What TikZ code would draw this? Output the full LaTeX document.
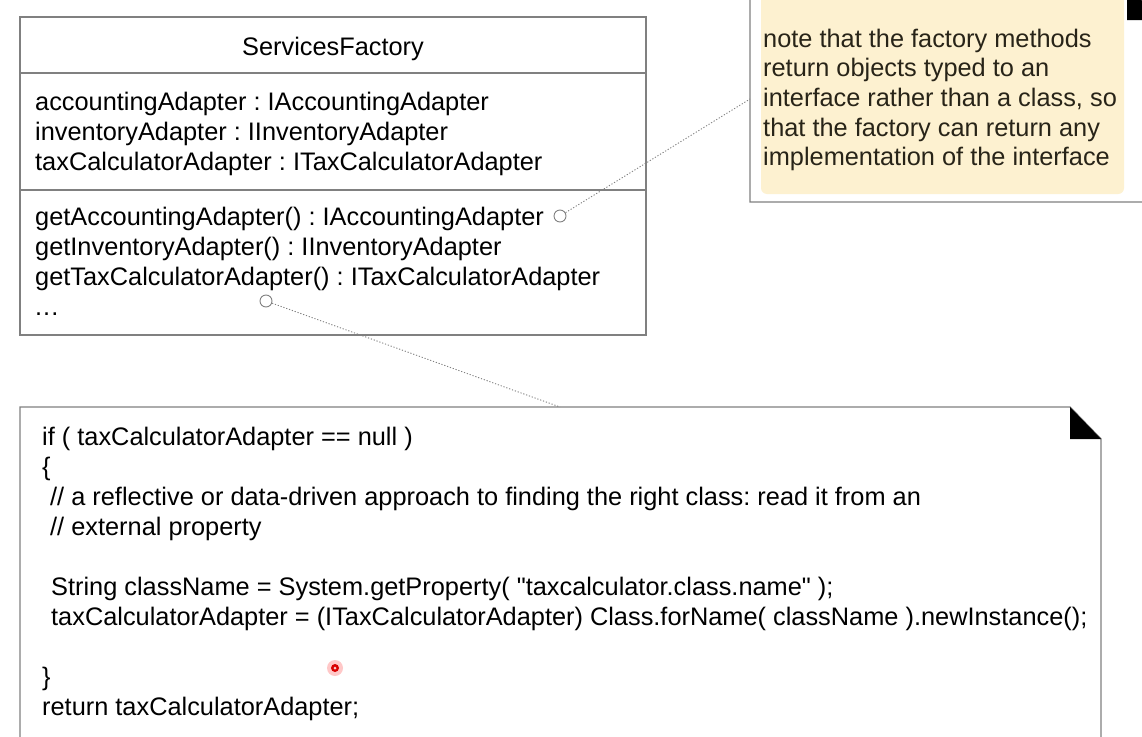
\documentclass[tikz,border=0pt]{standalone}
\usepackage{fontspec}
\setmainfont{Liberation Sans}
\newfontfamily\plainquote{Liberation Sans}[Ligatures=TeXOff]
\usepackage{tikz}
\usetikzlibrary{positioning}
\definecolor{mgray}{rgb}{0.5, 0.5, 0.5}
\definecolor{mhilite}{RGB}{253, 241, 208}
\definecolor{mink}{RGB}{40, 36, 24}
\tikzset{boxline/.style = {draw = mgray, line width = 1.4}}
\tikzset{umltext/.style = {anchor = base west, inner sep = 0, font = \fontsize{25.35}{30}\selectfont}}
\tikzset{port/.style = {draw = mgray, fill = white, circle, inner sep = 0, minimum size = 12, line width = 0.9}}
\tikzset{notelink/.style = {mgray, line width = 0.9, dash pattern = on 1.2 off 1.8}}
\newcommand{\qq}{{\plainquote\char34}}

\begin{document}
\frenchspacing
\begin{tikzpicture}[x = 1pt, y = -1pt]
    \useasboundingbox (0, 0) rectangle (1142, 736);

    % class box
    \draw [boxline] (20, 17) rectangle (646, 335);
    \draw [boxline] (20, 73) -- (646, 73);
    \draw [boxline] (20, 190) -- (646, 190);
    \node [umltext, anchor = base] (factory) at (333, 55) {ServicesFactory};
    \foreach \txt [count = \i] in {accountingAdapter : IAccountingAdapter,
        inventoryAdapter : IInventoryAdapter,
        taxCalculatorAdapter : ITaxCalculatorAdapter} {
      \node [umltext] (attr\i) at (35, 110 + 30 * \i - 30) {\txt};
    }
    \foreach \txt [count = \i] in {getAccountingAdapter() : IAccountingAdapter,
        getInventoryAdapter() : IInventoryAdapter,
        getTaxCalculatorAdapter() : ITaxCalculatorAdapter} {
      \node [umltext] (meth\i) at (35, 225 + 30 * \i - 30) {\txt};
    }
    \node [umltext] (meth4) at (35, 315) {.\kern1pt.\kern1pt.};

    % note at the top right
    \draw [boxline, fill = white] (750, -14) -- (1127, -14) -- (1161, 20)
      -- (1161, 202) -- (750, 202) -- cycle;
    \fill [mhilite, rounded corners = 6] (761, -5) rectangle (1124, 194);
    \fill [black] (1127, -14) -- (1127, 20) -- (1161, 20) -- cycle;
    \foreach \txt [count = \i] in {note that the factory methods,
        return objects typed to an,
        interface rather than a class{,} so,
        that the factory can return any,
        implementation of the interface} {
      \node [umltext, text = mink] (note\i) at (763, 47 + 29.7 * \i - 29.7) {\txt};
    }
    \coordinate (noteleft) at (750, 99);

    % code note
    \draw [boxline, fill = white] (20, 407) -- (1070, 407) -- (1101, 439)
      -- (1101, 760) -- (20, 760) -- cycle;
    \fill [black] (1070, 407) -- (1070, 439) -- (1101, 439) -- cycle;
    \coordinate (codetop) at (560, 407);
    \node [umltext] (code1) at (42, 445) {if ( taxCalculatorAdapter == null )};
    \node [umltext] (code2) at (42, 475) {\{};
    \node [umltext] (code3) at (50, 505) {// a reflective or data-driven approach to finding the right class: read it from an};
    \node [umltext] (code4) at (50, 535) {// external property};
    \node [umltext] (code5) at (51, 595) {String className = System.getProperty( \qq taxcalculator.class.name\qq\ );};
    \node [umltext] (code6) at (51, 625) {taxCalculatorAdapter = (ITaxCalculatorAdapter) Class.forName( className ).newInstance();};
    \node [umltext] (code7) at (42, 685) {\}};
    \node [umltext] (code8) at (42, 715) {return taxCalculatorAdapter;};

    % links from the methods to the notes
    \node [port] (port1) at (560, 216) {};
    \node [port] (port2) at (266, 301) {};
    \draw [notelink] (port1) -- (noteleft);
    \draw [notelink] (port2) -- (codetop);

    % pointer
    \fill [red!30, opacity = 0.7] (335, 668) circle (8);
    \fill [red!85!black] (335, 668) circle (4);
    \fill [red!20] (335, 668) circle (1.5);
  \end{tikzpicture}
\end{document}
